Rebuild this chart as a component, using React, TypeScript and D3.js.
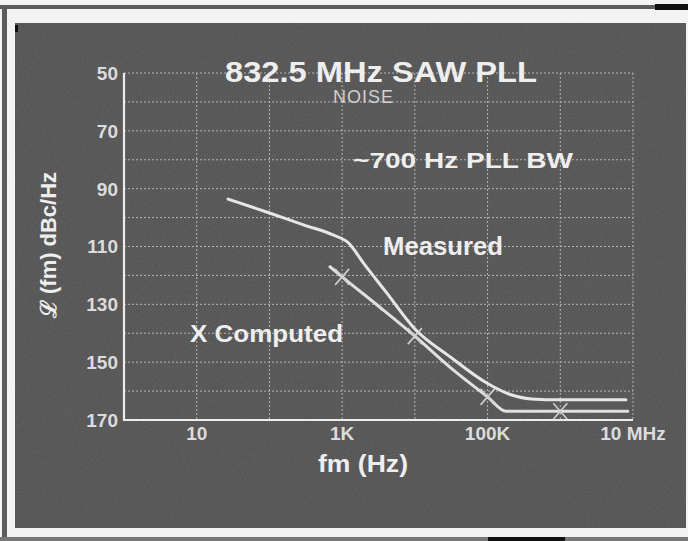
import React from 'react';
import * as d3 from 'd3';

// phase noise, dBc/Hz (shown as positive numbers, like the original)
const yTicks = [50, 70, 90, 110, 130, 150, 170];
const xTickValues = [10, 1e3, 1e5, 1e7];
const xTickLabels = ['10', '1K', '100K', '10 MHz'];
const xGridValues = [10, 100, 1e3, 1e4, 1e5, 1e6, 1e7];

const measuredFreq = [27, 100, 300, 750, 1200, 2000, 4000, 10000, 30000, 100000, 200000, 400000, 1e6, 8e6];
const measuredNoise = [93.6, 98.4, 102.6, 106, 108.6, 116, 125.7, 138.5, 148, 157.4, 161.1, 162.7, 163, 163];

const computedFreq = [680, 1000, 3300, 10000, 33000, 100000, 180000, 1e6, 8.5e6];
const computedNoise = [117, 120.5, 131, 141, 152.5, 162, 167, 167, 167];

const markFreq = [1e3, 1e4, 1e5, 1e6];
const markNoise = [120.5, 141, 162, 167];

const W = 688;
const H = 541;
const FONT = '"Liberation Sans", Arial, Helvetica, sans-serif';

export default function App() {
  const x = d3.scaleLog().domain([1, 1e7]).range([124, 633]);
  const y = d3.scaleLinear().domain([50, 170]).range([73, 420]);

  const line = d3.line<[number, number]>()
    .x((d) => x(d[0]))
    .y((d) => y(d[1]))
    .curve(d3.curveMonotoneX);

  const measured = line(measuredFreq.map((f, i) => [f, measuredNoise[i]]));
  const computed = line(computedFreq.map((f, i) => [f, computedNoise[i]]));
  const hGrid = d3.range(50, 170, 10);
  const [x0, x1] = x.range();
  const [y0, y1] = y.range();

  return (
    <svg width={W} height={H} style={{ position: 'absolute', left: 0, top: 0 }} fontFamily={FONT}>
      <defs>
        <filter id="grain" x="0" y="0" width="100%" height="100%">
          <feTurbulence type="fractalNoise" baseFrequency="0.9" numOctaves="2" seed="4" result="n" />
          <feColorMatrix type="matrix" values="0 0 0 0 1  0 0 0 0 1  0 0 0 0 1  0 0 0 -1.6 1.05" />
        </filter>
      </defs>
      <rect width={W} height={H} fill="#f3f3f3" />
      {/* scan frame */}
      <rect x={0} y={5} width={W} height={4} fill="#5c5c5c" />
      <rect x={655} y={4} width={33} height={6} fill="#111" />
      <rect x={2} y={5} width={5} height={H - 5} fill="#5c5c5c" />
      <rect x={0} y={537} width={W} height={4} fill="#777" />
      <rect x={488} y={537} width={77} height={4} fill="#111" />
      <rect x={15} y={23} width={671} height={505} fill="#565656" />
      <rect x={15} y={23} width={671} height={505} fill="#fff" opacity={0.08} filter="url(#grain)" />
      <rect x={15} y={25} width={3} height={7} fill="#111" />

      {/* grid */}
      <g stroke="#b4b4b4" strokeWidth={1} strokeDasharray="2 2">
        {hGrid.map((v) => (
          <line key={`h${v}`} x1={x0} x2={x1} y1={y(v)} y2={y(v)} />
        ))}
        {xGridValues.map((v) => (
          <line key={`v${v}`} x1={x(v)} x2={x(v)} y1={y0} y2={y1} />
        ))}
      </g>
      {/* axes */}
      <g stroke="#ececec" strokeWidth={2.2} fill="none">
        <line x1={x0} x2={x0} y1={y0} y2={y1 + 1} />
        <line x1={x0} x2={x1} y1={y1} y2={y1} />
      </g>

      {/* curves */}
      <path d={measured ?? ''} fill="none" stroke="#e6e6e6" strokeWidth={3} strokeLinecap="round" />
      <path d={computed ?? ''} fill="none" stroke="#e0e0e0" strokeWidth={3} strokeLinecap="round" />
      <g stroke="#cfcfcf" strokeWidth={1.6}>
        {markFreq.map((f, i) => {
          const cx = x(f);
          const cy = y(markNoise[i]);
          return (
            <g key={f}>
              <line x1={cx - 7} x2={cx + 7} y1={cy - 8} y2={cy + 8} />
              <line x1={cx - 7} x2={cx + 7} y1={cy + 8} y2={cy - 8} />
            </g>
          );
        })}
      </g>

      {/* tick labels */}
      <g fill="#dcdcdc" fontSize={19} fontWeight="bold">
        {yTicks.map((v) => (
          <text key={v} x={118} y={y(v)} dy="0.36em" textAnchor="end">{v}</text>
        ))}
        {xTickValues.map((v, i) => (
          <text key={v} x={x(v)} y={440} textAnchor="middle">{xTickLabels[i]}</text>
        ))}
      </g>

      {/* titles and notes */}
      <g fill="#eeeeee" fontWeight="bold">
        <text x={381} y={82} fontSize={29} textAnchor="middle" textLength={312} lengthAdjust="spacingAndGlyphs">832.5 MHz SAW PLL</text>
        <text x={363} y={103} fontSize={18} fontWeight="normal" fill="#d0d0d0" textAnchor="middle" textLength={60}>NOISE</text>
        <text x={353} y={168} fontSize={22} textLength={220} lengthAdjust="spacingAndGlyphs">~700 Hz PLL BW</text>
        <text x={383} y={255} fontSize={25} textLength={120} lengthAdjust="spacingAndGlyphs">Measured</text>
        <text x={190} y={342} fontSize={24} textLength={153} lengthAdjust="spacingAndGlyphs">X Computed</text>
        <text x={363} y={472} fontSize={24} textAnchor="middle" textLength={90} lengthAdjust="spacingAndGlyphs">fm (Hz)</text>
        <text transform="translate(56,245) rotate(-90)" fontSize={22} textAnchor="middle" textLength={146} lengthAdjust="spacingAndGlyphs">ℒ (fm)  dBc/Hz</text>
      </g>
    </svg>
  );
}
